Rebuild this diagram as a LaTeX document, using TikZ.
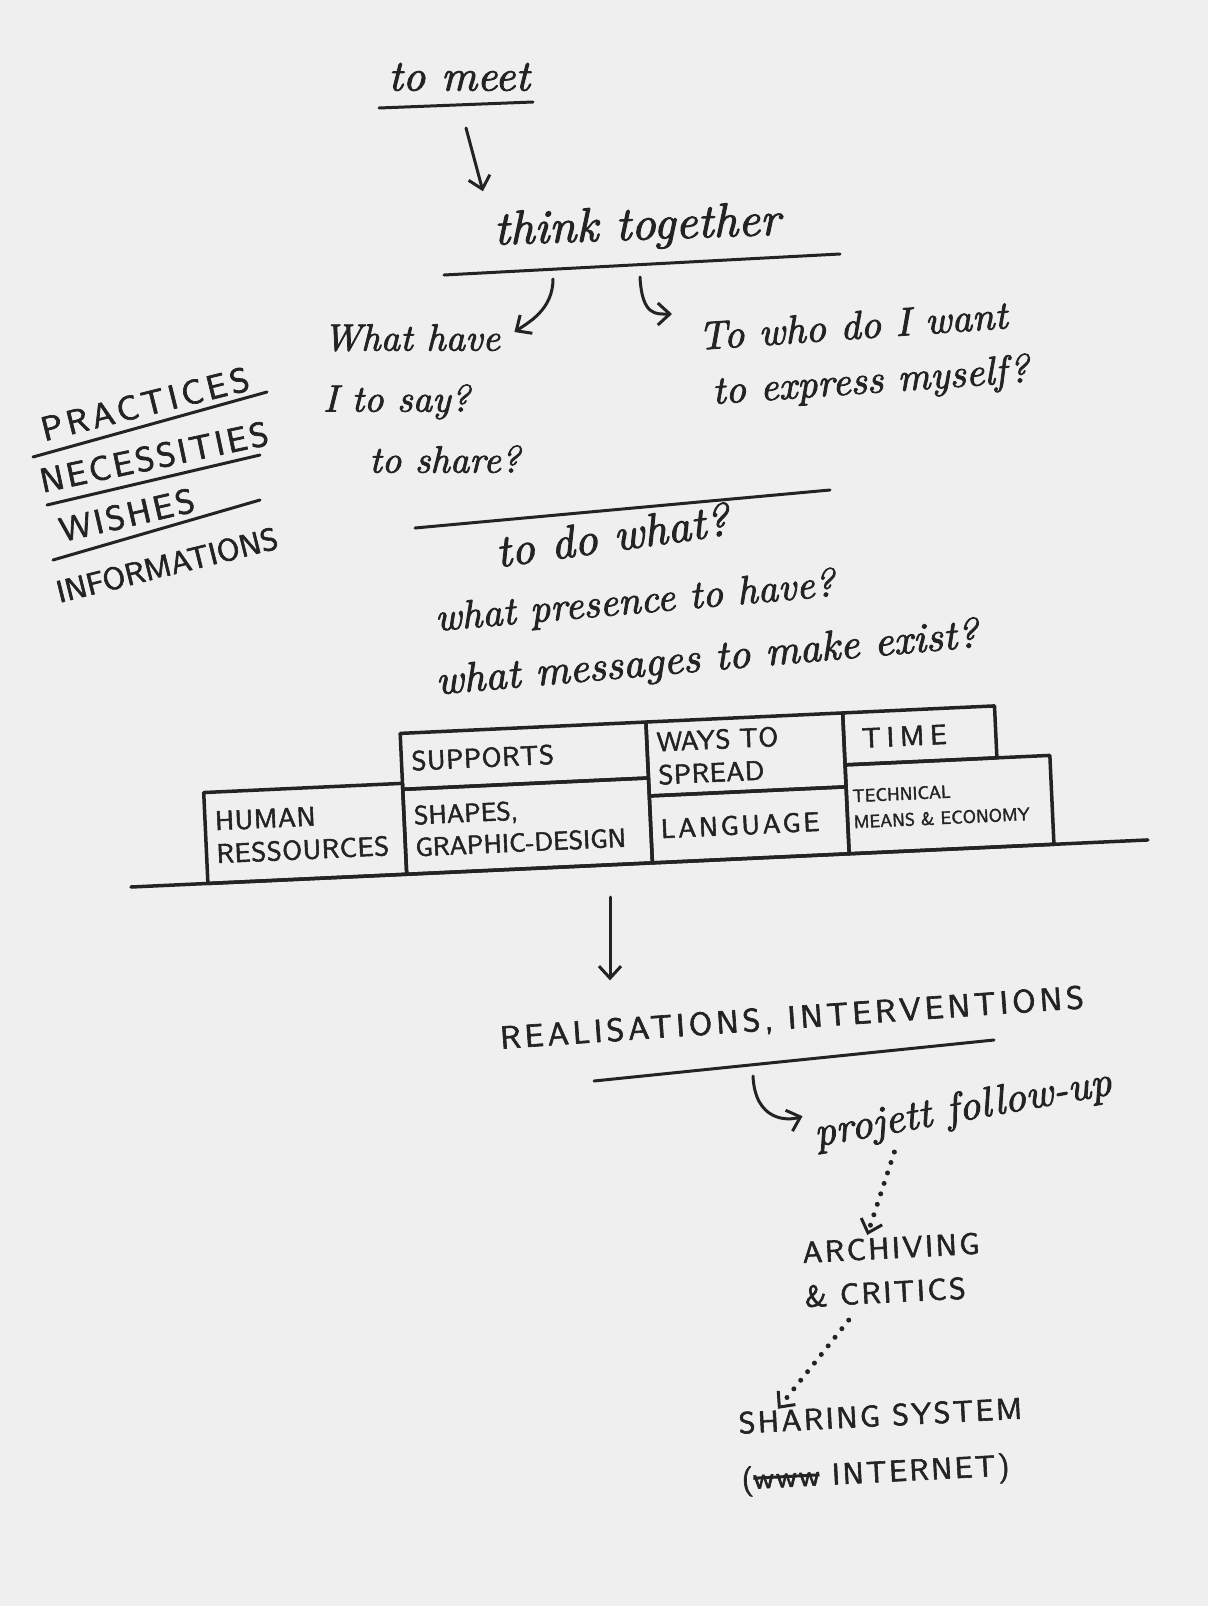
\documentclass[tikz,border=0pt]{standalone}
\usepackage{fontspec}
\usetikzlibrary{positioning, arrows.meta}

\newfontfamily\handface{lmroman10-italic.otf}
\newfontfamily\capsface{lmsans10-regular.otf}
\definecolor{ink}{HTML}{232323}
\definecolor{paper}{HTML}{EFEFEF}
\newsavebox\scratchbox
\newcommand{\scratched}[1]{\sbox\scratchbox{#1}\rlap{\usebox\scratchbox}\rule[0.3em]{\wd\scratchbox}{3pt}}
\newcommand{\handf}[2]{\handface\fontsize{#1}{#2}\selectfont\addfontfeature{FakeBold=2}}
\newcommand{\capsf}[3]{\capsface\fontsize{#1}{#2}\selectfont\addfontfeature{LetterSpace=#3,FakeBold=2}}

\begin{document}
\begin{tikzpicture}[
    % GLOBAL CFG
    x=1pt, y=-1pt,
    >={Straight Barb[length=12pt,width=22pt,line width=3pt]},
    line cap=round, line join=round,
    % Styles
    hand/.style={% For the cursive words
        font=\handf{40}{52},
        text=ink,
        inner sep=0pt,
        align=left,
    },
    caps/.style={% For the block capitals
        font=\capsf{34}{44}{8},
        text=ink,
        inner sep=0pt,
        align=left,
    },
    cellbox/.style={% For the boxes of the wall
        rectangle,
        draw=ink,
        line width=3.5pt,
        inner xsep=10pt,
        inner ysep=4pt,
        align=left,
        font=\capsf{27}{33}{2},
        text=ink,
    },
    bar/.style={% For the underlines
        draw=ink,
        line width=3pt,
    },
    ArrowH/.style={% Plain arrows
        ->,
        draw=ink,
        line width=3pt,
    },
    ArrowD/.style={% Dotted arrows
        ->,
        draw=ink,
        line width=5pt,
        dash pattern=on 0pt off 11pt,
    },
    ]

    % Paper
    \useasboundingbox (0,0) rectangle (1208,1606);
    \fill[paper] (0,0) rectangle (1208,1606);

    % Top of the page
    \node[hand, font=\handf{44}{52}] (tomeet) at (459,77) {to meet};
    \draw[bar] (379,108) -- (533,102);
    \node[hand, font=\handf{48}{56}, rotate=2] (think) at (637,228) {think together};
    \draw[bar] (444,275) -- (840,254);

    % Questions
    \node[hand, font=\handf{38}{61}, anchor=north west] (whathave) at (323,324)
        {What have\\I to say?\\\hspace{46pt}to share?};
    \node[hand, font=\handf{40}{55}, rotate=4, anchor=north west] (towho) at (697,322)
        {To who do I want\\\hspace{10pt}to express myself?};
    \draw[bar] (415,528) -- (830,490);
    \node[hand, font=\handf{46}{52}, rotate=8] (dowhat) at (612,535) {to do what?};
    \node[hand, font=\handf{40}{52}, rotate=5] (presence) at (635,603) {what presence to have?};
    \node[hand, font=\handf{42}{52}, rotate=5] (messages) at (707,660) {what messages to make exist?};

    % List on the left
    \node[caps, font=\capsf{34}{44}{12}, rotate=14] (practices) at (145,404) {PRACTICES};
    \node[caps, font=\capsf{34}{44}{8}, rotate=12] (necessities) at (154,457) {NECESSITIES};
    \node[caps, font=\capsf{34}{44}{8}, rotate=13] (wishes) at (127,515) {WISHES};
    \node[caps, font=\capsf{31}{44}{0}, rotate=14] (informations) at (167,565) {INFORMATIONS};
    \draw[bar] (33,457) -- (267,392);
    \draw[bar] (47,505) -- (260,455);
    \draw[bar] (53,560) -- (260,500);

    % The wall of boxes, tilted with its ground line
    \begin{scope}[rotate around={2.65:(131,887)}, transform shape]
        \draw[draw=ink, line width=3.5pt] (131,887) -- (1149,887);
        \node[cellbox, minimum width=199pt, minimum height=91pt, text width=179pt] (human) at (307.5,841.5) {HUMAN\\RESSOURCES};
        \node[cellbox, minimum width=246pt, minimum height=85pt, text width=226pt, font=\capsf{26}{32}{0}] (shapes) at (530,844.5) {SHAPES,\\GRAPHIC-DESIGN};
        \node[cellbox, minimum width=246pt, minimum height=56pt, text width=226pt] (supports) at (530,774) {SUPPORTS};
        \node[cellbox, minimum width=197pt, minimum height=67pt, text width=177pt, font=\capsf{27}{33}{10}] (language) at (751.5,853.5) {LANGUAGE};
        \node[cellbox, minimum width=197pt, minimum height=74pt, text width=177pt] (ways) at (751.5,783) {WAYS TO\\SPREAD};
        \node[cellbox, minimum width=205pt, minimum height=89pt, inner xsep=6pt, text width=193pt, font=\capsf{18}{26}{0}] (technical) at (952.5,842.5) {TECHNICAL\\MEANS \& ECONOMY};
        \node[cellbox, minimum width=152pt, minimum height=52pt, text width=132pt, font=\capsf{28}{33}{20}] (time) at (926,772) {\hspace{8pt}TIME};
    \end{scope}

    % Below the wall
    \node[caps, font=\capsf{32}{40}{12}, rotate=4] (realis) at (792,1019) {REALISATIONS, INTERVENTIONS};
    \draw[bar] (594,1081) -- (994,1040);
    \node[hand, font=\handf{42}{50}, rotate=10] (projett) at (963,1110) {projett follow-up};
    \node[caps, font=\capsf{30}{44}{8}, rotate=3] (archiving) at (892,1270) {ARCHIVING\\\& CRITICS};
    \node[caps, font=\capsf{30}{56}{8}, rotate=3] (sharing) at (882,1447) {SHARING SYSTEM\\(\scratched{www} INTERNET)};

    % Connect all
    \coordinate (meetbar) at (466,128);
    \coordinate (thinkbarL) at (553,279);
    \coordinate (thinkbarR) at (640,277);
    \coordinate (wallarrow) at (610,897);
    \coordinate (realbar) at (753,1076);

    \draw[ArrowH] (meetbar) -- ([xshift=-10pt,yshift=20pt]think.north west);
    \draw[ArrowH] (thinkbarL) .. controls +(0,30) and +(15,-10) .. ([xshift=-6pt,yshift=-8pt]whathave.north east);
    \draw[ArrowH] (thinkbarR) .. controls +(2,40) and +(-15,0) .. ([xshift=-25pt,yshift=8pt]towho.north west);
    \draw[ArrowH] (wallarrow) -- ([yshift=25pt]wallarrow |- realis.north);
    \draw[ArrowH] (realbar) .. controls +(2,45) and +(-15,5) .. ([xshift=-12pt,yshift=20pt]projett.west);
    \draw[ArrowD] ([xshift=-72pt,yshift=-23pt]projett.south) -- ([xshift=-23pt,yshift=2pt]archiving.north);
    \draw[ArrowD] ([xshift=-45pt,yshift=-17pt]archiving.south) -- ([xshift=40pt,yshift=3pt]sharing.north west);

\end{tikzpicture}
\end{document}
